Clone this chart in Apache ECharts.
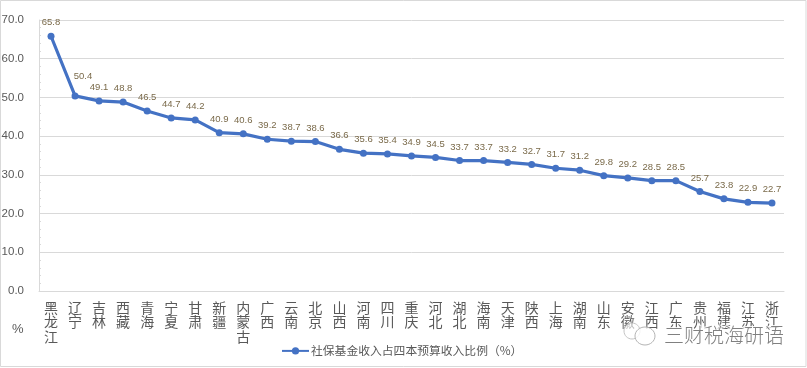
<!DOCTYPE html>
<html><head><meta charset="utf-8">
<style>html,body{margin:0;padding:0;background:#fff}#c{width:807px;height:368px}</style>
<script src="https://cdn.jsdelivr.net/npm/echarts@6/dist/echarts.min.js"></script>
</head><body><div id="c"></div>
<script>
const provinces = ['黑龙江','辽宁','吉林','西藏','青海','宁夏','甘肃','新疆','内蒙古','广西','云南','北京','山西','河南','四川','重庆','河北','湖北','海南','天津','陕西','上海','湖南','山东','安徽','江西','广东','贵州','福建','江苏','浙江'];
const ratio = [65.8,50.4,49.1,48.8,46.5,44.7,44.2,40.9,40.6,39.2,38.7,38.6,36.6,35.6,35.4,34.9,34.5,33.7,33.7,33.2,32.7,31.7,31.2,29.8,29.2,28.5,28.5,25.7,23.8,22.9,22.7];
const seriesName = '社保基金收入占四本预算收入比例（%）';
const font = '"Noto Sans CJK SC","Liberation Sans",sans-serif';
const chart = echarts.init(document.getElementById('c'), null, {renderer:'canvas'});
chart.setOption({
  animation:false,
  backgroundColor:'#fff',
  grid:{left:39,right:23,top:20,bottom:77,containLabel:false,outerBoundsMode:'none'},
  legend:{
    show:true,left:281,top:345,itemWidth:27,itemHeight:9,itemGap:0,padding:0,
    textStyle:{fontFamily:font,fontSize:11.8,color:'#595959',padding:[0,0,0,-3]},
    data:[{name:seriesName}]
  },
  xAxis:{
    type:'category',data:provinces,boundaryGap:true,
    axisLine:{lineStyle:{color:'#d9d9d9',width:1}},
    axisTick:{show:false},
    axisLabel:{
      interval:0,margin:9,fontFamily:font,fontSize:14,lineHeight:14.7,color:'#595959',
      formatter:v=>v.split('').join('\n')
    }
  },
  yAxis:{
    type:'value',min:0,max:70,interval:10,
    axisLine:{show:true,lineStyle:{color:'#d9d9d9',width:1}},
    axisTick:{show:true,inside:true,length:0,lineStyle:{color:'#d9d9d9',width:0}},
    minorTick:{show:true,splitNumber:5,length:2,lineStyle:{color:'#d9d9d9'}},
    splitLine:{lineStyle:{color:'#d9d9d9',width:1}},
    axisLabel:{margin:15,fontFamily:'"Liberation Sans",sans-serif',fontSize:11.5,color:'#595959',formatter:v=>v.toFixed(1)}
  },
  series:[{
    name:seriesName,type:'line',
    data:ratio.map((v,i)=>i===1?{value:v,label:{offset:[8,-6]}}:v),
    symbol:'circle',symbolSize:7,
    lineStyle:{color:'#4472c4',width:3.2},
    itemStyle:{color:'#4472c4'},
    label:{show:true,position:'top',distance:5,fontFamily:'"Liberation Sans",sans-serif',fontSize:9.5,color:'#7a6a4a',formatter:p=>p.value.toFixed(1)}
  }],
  graphic:[
    {type:'rect',silent:true,z:-1,shape:{x:0.5,y:0.5,width:805.5,height:366},style:{fill:'none',stroke:'#d9d9d9',lineWidth:1}},
    {type:'text',left:12,top:323,style:{text:'%',font:'13px "Liberation Sans",sans-serif',fill:'#595959'}},
    {type:'text',left:663,top:324,z:20,style:{text:'三财税海研语',font:'200 20px "Noto Sans CJK SC",sans-serif',fill:'#808080',stroke:'rgba(255,255,255,0.85)',lineWidth:2}},
    {type:'ellipse',z:20,shape:{cx:632,cy:331,rx:8,ry:8},style:{fill:'rgba(255,255,255,0.6)',stroke:'#c4c4c4',lineWidth:1}},
    {type:'ellipse',z:20,shape:{cx:645,cy:336,rx:10,ry:9},style:{fill:'rgba(255,255,255,0.8)',stroke:'#b4b4b4',lineWidth:1}}
  ]
});
</script></body></html>
